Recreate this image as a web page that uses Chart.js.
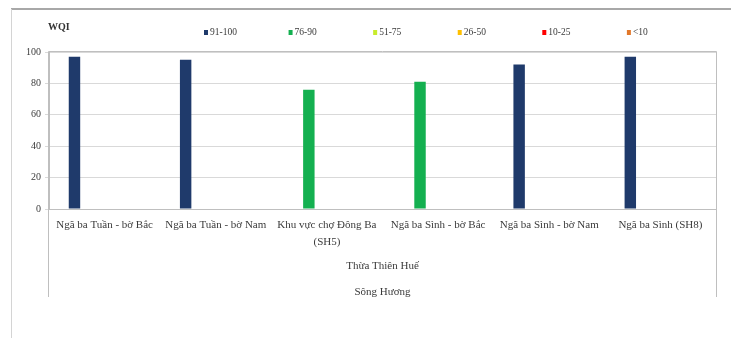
<!DOCTYPE html>
<html>
<head>
<meta charset="utf-8">
<script src="https://cdn.jsdelivr.net/npm/chart.js@4/dist/chart.umd.min.js"></script>
<style>
  html, body { margin: 0; padding: 0; background: #ffffff; }
  #wrap { width: 731px; height: 338px; }
</style>
</head>
<body>
<div id="wrap"><canvas id="c" width="731" height="338"></canvas></div>
<script>
// Monitoring sites on the Huong river (first axis level)
const sites = [
  'Ngã ba Tuần - bờ Bắc',
  'Ngã ba Tuần - bờ Nam',
  ['Khu vực chợ Đông Ba', '(SH5)'],
  'Ngã ba Sình - bờ Bắc',
  'Ngã ba Sình - bờ Nam',
  'Ngã ba Sình (SH8)'
];
const province = 'Thừa Thiên Huế';
const river = 'Sông Hương';

// WQI classes and their colours
const classes = ['91-100', '76-90', '51-75', '26-50', '10-25', '<10'];
const classColors = ['#1f3a6b', '#14b050', '#c8ec2c', '#ffc000', '#ff0000', '#e2782a'];

// WQI values per class (null where the site is in another class)
const wqi91to100 = [97, 95, null, null, 92, 97];
const wqi76to90  = [null, null, 76, 81, null, null];
const wqi51to75  = [null, null, null, null, null, null];
const wqi26to50  = [null, null, null, null, null, null];
const wqi10to25  = [null, null, null, null, null, null];
const wqiBelow10 = [null, null, null, null, null, null];

const yTicks = [0, 20, 40, 60, 80, 100];
const yTitle = 'WQI';

const classValues = [wqi91to100, wqi76to90, wqi51to75, wqi26to50, wqi10to25, wqiBelow10];

const serif = '"Liberation Serif", "Times New Roman", serif';
const gridGray = '#d9d9d9';
const boxGray = '#bfbfbf';
const textGray = '#3a3a3a';

// Page frame, plot box, extended axis-level lines, legend and extra label rows
const decorations = {
  id: 'decorations',
  beforeDraw(chart) {
    const ctx = chart.ctx;
    ctx.save();
    ctx.fillStyle = '#ffffff';
    ctx.fillRect(0, 0, chart.width, chart.height);
    ctx.strokeStyle = '#a8a8a8';
    ctx.lineWidth = 2;
    ctx.beginPath();
    ctx.moveTo(11, 9); ctx.lineTo(chart.width, 9);
    ctx.stroke();
    ctx.strokeStyle = '#d4d4d4';
    ctx.lineWidth = 1;
    ctx.beginPath();
    ctx.moveTo(11.5, 9); ctx.lineTo(11.5, chart.height);
    ctx.stroke();
    ctx.restore();
  },
  afterDraw(chart) {
    const ctx = chart.ctx;
    const a = chart.chartArea;
    ctx.save();
    // plot box and level separators reaching down through the category rows
    ctx.strokeStyle = boxGray;
    ctx.lineWidth = 1;
    ctx.beginPath();
    ctx.moveTo(a.left - 0.5, a.bottom); ctx.lineTo(a.left - 0.5, a.top - 0.5);
    ctx.lineTo(a.right + 0.5, a.top - 0.5); ctx.lineTo(a.right + 0.5, a.bottom + 88);
    ctx.moveTo(a.left - 0.5, a.bottom); ctx.lineTo(a.left - 0.5, a.bottom + 88);
    ctx.stroke();

    // second and third category levels
    const cx = (a.left + a.right) / 2;
    ctx.fillStyle = textGray;
    ctx.font = '11px ' + serif;
    ctx.textAlign = 'center';
    ctx.textBaseline = 'middle';
    ctx.fillText(province, cx, a.bottom + 57);
    ctx.fillText(river, cx, a.bottom + 83);

    // value axis title
    ctx.font = 'bold 10px ' + serif;
    ctx.textAlign = 'left';
    ctx.fillStyle = '#333333';
    ctx.fillText(yTitle, a.left - 1, 27);

    // legend row
    ctx.font = '9.5px ' + serif;
    const step = a.width * 0.1268;
    const x0 = a.left + 155;
    classes.forEach((name, i) => {
      const x = x0 + step * i;
      ctx.fillStyle = classColors[i];
      ctx.fillRect(x, 30, 4, 5);
      ctx.fillStyle = textGray;
      ctx.fillText(name, x + 6, 32.5);
    });
    ctx.restore();
  }
};

const datasets = classes.map((name, i) => ({
  label: name,
  data: classValues[i],
  backgroundColor: classColors[i],
  borderWidth: 0,
  categoryPercentage: 0.65,
  barPercentage: 0.95
}));

new Chart(document.getElementById('c'), {
  type: 'bar',
  data: { labels: sites, datasets },
  options: {
    responsive: false,
    animation: false,
    devicePixelRatio: 1,
    layout: { padding: { left: 12, right: 15, top: 52, bottom: 0 } },
    plugins: {
      legend: { display: false },
      tooltip: { enabled: false },
      title: { display: false }
    },
    scales: {
      x: {
        type: 'category',
        grid: { display: false, drawTicks: false },
        border: { display: true, color: boxGray, width: 1 },
        ticks: {
          color: textGray,
          font: { family: serif, size: 11, lineHeight: 1.5 },
          maxRotation: 0,
          minRotation: 0,
          autoSkip: false,
          padding: 8
        },
        afterFit(scale) { scale.height = 129; }
      },
      y: {
        min: 0,
        max: 100,
        afterBuildTicks(scale) { scale.ticks = yTicks.map(v => ({ value: v })); },
        grid: { color: gridGray, lineWidth: 1, tickLength: 4, drawTicks: true },
        border: { display: true, color: boxGray },
        ticks: {
          color: textGray,
          font: { family: serif, size: 10 },
          padding: 4
        },
        afterFit(scale) { scale.width = 37; }
      }
    }
  },
  plugins: [decorations]
});
</script>
</body>
</html>
